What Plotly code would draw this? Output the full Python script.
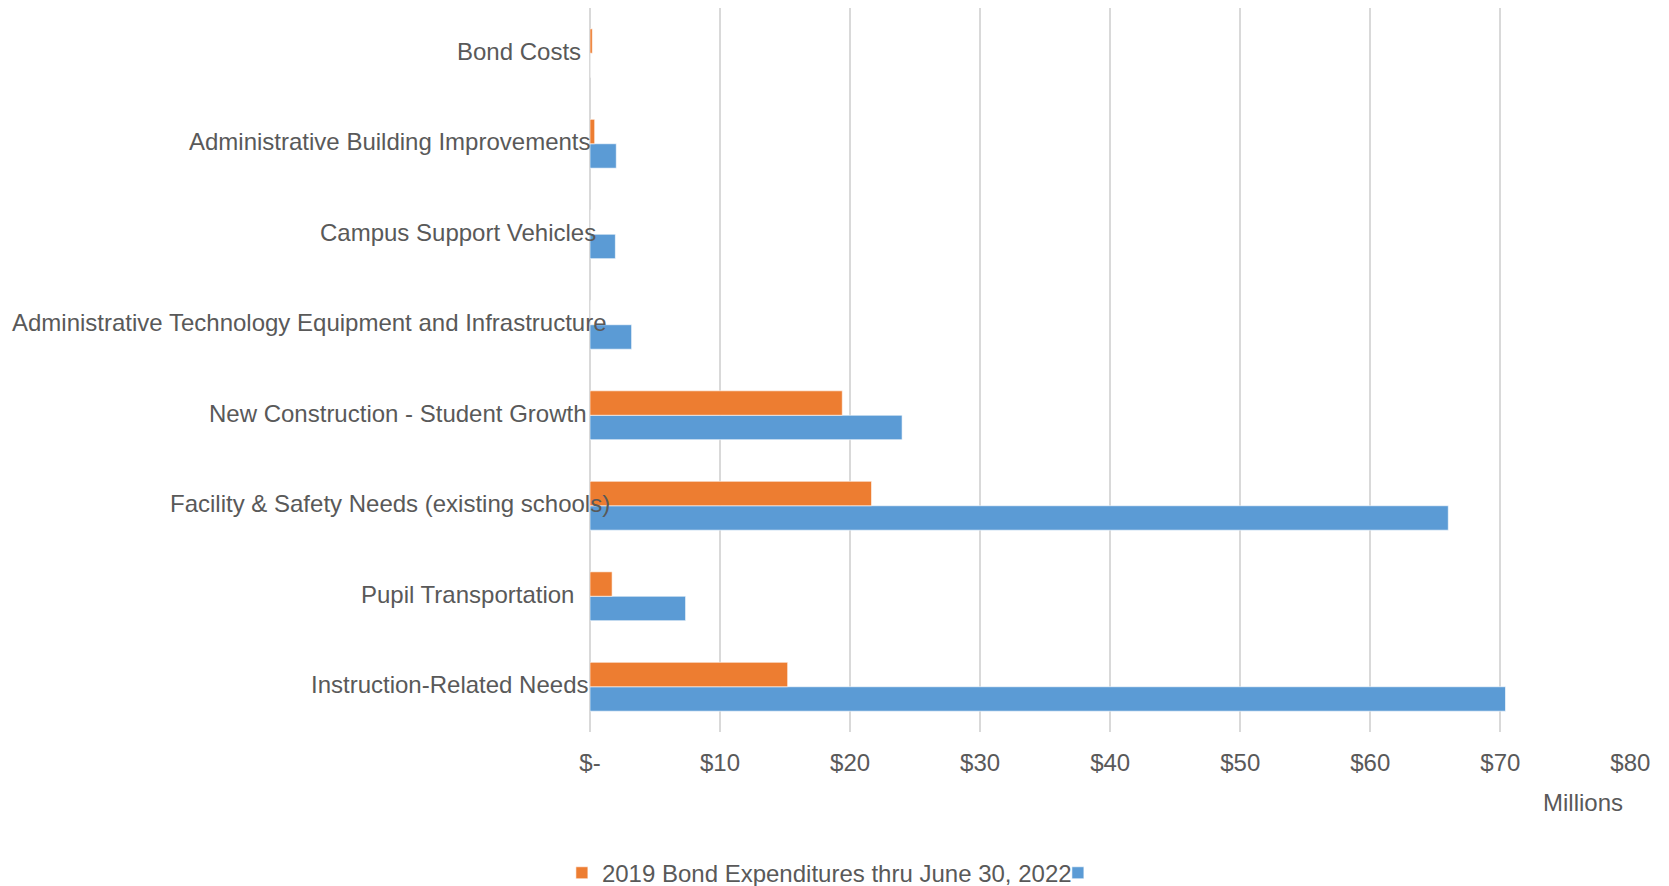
import plotly.graph_objects as go

categories = [
    "Instruction-Related Needs",
    "Pupil Transportation",
    "Facility & Safety Needs (existing schools)",
    "New Construction - Student Growth",
    "Administrative Technology Equipment and Infrastructure",
    "Campus Support Vehicles",
    "Administrative Building Improvements",
    "Bond Costs",
]
expenditures_2022 = [15.2, 1.7, 21.65, 19.4, 0.0, 0.0, 0.36, 0.18]
blue_series = [70.4, 7.35, 66.0, 24.0, 3.2, 1.95, 2.02, 0.0]

tick_vals = [0, 10, 20, 30, 40, 50, 60, 70, 80]
tick_text = ["$-", "$10", "$20", "$30", "$40", "$50", "$60", "$70", "$80"]

# horizontal nudge (px) of each category label, as in the original layout
label_nudge = [0, -14, 22, -1, 19, 7.5, 3, -7.5]

ORANGE = "#ED7D31"
BLUE = "#5B9BD5"
TXT = "#595959"
FONT = "Liberation Sans, Arial, sans-serif"

fig = go.Figure()
fig.add_trace(go.Bar(
    y=categories, x=blue_series, orientation="h", name="",
    marker=dict(color=BLUE, line=dict(color="rgba(255,255,255,0.6)", width=1)),
    legendrank=2,
))
fig.add_trace(go.Bar(
    y=categories, x=expenditures_2022, orientation="h",
    name="2019 Bond Expenditures thru June 30, 2022",
    marker=dict(color=ORANGE, line=dict(color="rgba(255,255,255,0.6)", width=1)),
    legendrank=1,
))

annotations = [dict(text="Millions", xref="paper", yref="paper", x=0.994, y=-0.097,
                    xanchor="right", yanchor="middle", showarrow=False,
                    font=dict(size=24, color=TXT))]
for cat, dx in zip(categories, label_nudge):
    annotations.append(dict(text=cat, xref="x", yref="y", x=0, y=cat,
                            xanchor="right", yanchor="middle", xshift=dx, yshift=2,
                            showarrow=False, font=dict(size=24, color=TXT)))

fig.update_layout(
    width=1661, height=878,
    margin=dict(l=582, r=38, t=0, b=154, autoexpand=False),
    paper_bgcolor="white", plot_bgcolor="white",
    barmode="group", bargap=0.46, bargroupgap=0,
    font=dict(family=FONT, size=24, color=TXT),
    showlegend=True,
    legend=dict(orientation="h", x=-0.027, xanchor="left", y=-0.195, yanchor="middle",
                font=dict(size=24, color=TXT), entrywidth=451, entrywidthmode="pixels",
                bgcolor="rgba(0,0,0,0)"),
    annotations=annotations,
)
fig.update_xaxes(
    range=[0, 80.05], tickvals=tick_vals, ticktext=tick_text,
    showgrid=True, gridcolor="#D9D9D9", gridwidth=1.5,
    zeroline=True, zerolinecolor="#D9D9D9", zerolinewidth=1.5,
    showline=False, ticks="", ticklabelstandoff=14, automargin=False,
    tickfont=dict(size=24, color=TXT),
)
fig.update_yaxes(
    showgrid=False, showline=False, ticks="", zeroline=False,
    showticklabels=False, automargin=False,
)

fig.write_html("out.html")
